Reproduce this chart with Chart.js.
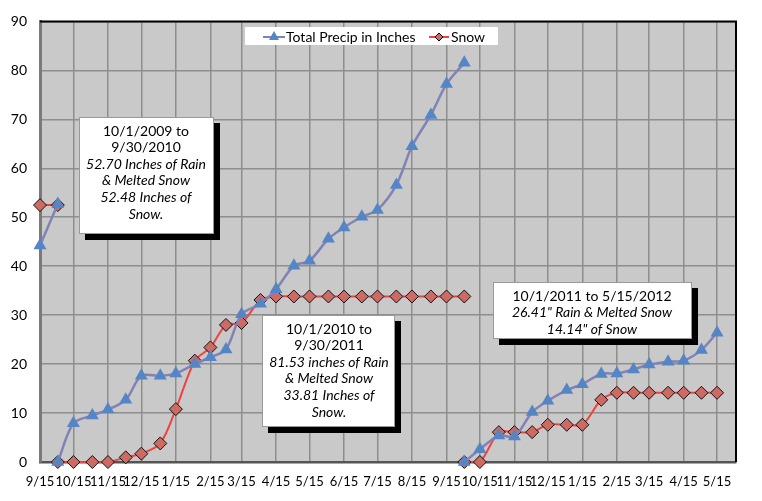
<!DOCTYPE html>
<html lang="en">
<head>
    <meta charset="UTF-8">
    <title>Precipitation and Snow</title>
    <script src="https://cdn.jsdelivr.net/npm/chart.js"></script>
    <style>
        html, body { margin: 0; padding: 0; background: #fff; }
        #chartContainer { width: 762px; height: 501px; }
    </style>
</head>
<body>
    <div id="chartContainer">
        <canvas id="precipChart" width="762" height="501"></canvas>
    </div>

    <script>
        // x axis tick labels (15th of each month)
        const tickDates = ['2010-09-15', '2010-10-15', '2010-11-15', '2010-12-15', '2011-01-15', '2011-02-15',
            '2011-03-15', '2011-04-15', '2011-05-15', '2011-06-15', '2011-07-15', '2011-08-15', '2011-09-15',
            '2011-10-15', '2011-11-15', '2011-12-15', '2012-01-15', '2012-02-15', '2012-03-15', '2012-04-15', '2012-05-15'];
        const tickLabels = ['9/15', '10/15', '11/15', '12/15', '1/15', '2/15', '3/15', '4/15', '5/15', '6/15', '7/15',
            '8/15', '9/15', '10/15', '11/15', '12/15', '1/15', '2/15', '3/15', '4/15', '5/15'];

        // end of the 2009-2010 season
        const season0Dates = ['2010-09-15', '2010-10-01'];
        const season0Precip = [44.2, 52.70];
        const season0Snow = [52.48, 52.48];

        // 2010-2011 season
        const season1Dates = ['2010-10-01', '2010-10-15', '2010-11-01', '2010-11-15', '2010-12-01', '2010-12-15',
            '2011-01-01', '2011-01-15', '2011-02-01', '2011-02-15', '2011-03-01', '2011-03-15', '2011-04-01',
            '2011-04-15', '2011-05-01', '2011-05-15', '2011-06-01', '2011-06-15', '2011-07-01', '2011-07-15',
            '2011-08-01', '2011-08-15', '2011-09-01', '2011-09-15', '2011-10-01'];
        const season1Precip = [0, 7.9, 9.5, 10.7, 12.7, 17.6, 17.6, 18.1, 20.0, 21.4, 23.0, 30.2, 32.3,
            35.3, 40.1, 41.1, 45.6, 47.9, 50.1, 51.5, 56.6, 64.5, 70.9, 77.2, 81.53];
        const season1Snow = [0, 0, 0, 0, 0.95, 1.7, 3.8, 10.8, 20.7, 23.4, 28.0, 28.4, 33.1,
            33.81, 33.81, 33.81, 33.81, 33.81, 33.81, 33.81, 33.81, 33.81, 33.81, 33.81, 33.81];

        // 2011-2012 season
        const season2Dates = ['2011-10-01', '2011-10-15', '2011-11-01', '2011-11-15', '2011-12-01', '2011-12-15',
            '2012-01-01', '2012-01-15', '2012-02-01', '2012-02-15', '2012-03-01', '2012-03-15', '2012-04-01',
            '2012-04-15', '2012-05-01', '2012-05-15'];
        const season2Precip = [0, 2.6, 5.4, 5.2, 10.2, 12.5, 14.7, 15.9, 18.0, 18.1, 18.9, 19.9, 20.5, 20.7, 22.9, 26.41];
        const season2Snow = [0, 0, 6.1, 6.1, 6.1, 7.6, 7.6, 7.6, 12.7, 14.14, 14.14, 14.14, 14.14, 14.14, 14.14, 14.14];

        const START = Date.UTC(2010, 8, 15);
        function dayOf(s) {
            const p = s.split('-').map(Number);
            return (Date.UTC(p[0], p[1] - 1, p[2]) - START) / 86400000;
        }

        // join seasons with a null point so the line breaks between them
        function buildSeries(parts) {
            const out = [];
            parts.forEach((part, i) => {
                if (i > 0) out.push({ x: dayOf(part[0][0]), y: null });
                part[0].forEach((d, j) => out.push({ x: dayOf(d), y: part[1][j] }));
            });
            return out;
        }

        const precipData = buildSeries([[season0Dates, season0Precip], [season1Dates, season1Precip], [season2Dates, season2Precip]]);
        const snowData = buildSeries([[season0Dates, season0Snow], [season1Dates, season1Snow], [season2Dates, season2Snow]]);
        const tickDays = tickDates.map(dayOf);

        const FONT = 'Lato, "Open Sans", sans-serif';

        const notes = [
            { box: [79, 117, 135, 117], cx: 146, lines: [['10/1/2009 to', ''], ['9/30/2010', ''], ['52.70 Inches of Rain', 'italic'],
                ['& Melted Snow', 'italic'], ['52.48 Inches of', 'italic'], ['Snow.', 'italic']], y0: 131 },
            { box: [262, 315, 133, 112], cx: 329, lines: [['10/1/2010 to', ''], ['9/30/2011', ''], ['81.53 inches of Rain', 'italic'],
                ['& Melted Snow', 'italic'], ['33.81 Inches of', 'italic'], ['Snow.', 'italic']], y0: 329 },
            { box: [493, 282, 199, 57], cx: 592, lines: [['10/1/2011 to 5/15/2012', ''], ['26.41" Rain & Melted Snow', 'italic'],
                ['14.14" of Snow', 'italic']], y0: 296 }
        ];

        const plotBackground = {
            id: 'plotBackground',
            beforeDraw(chart) {
                const { ctx, chartArea: a } = chart;
                ctx.save();
                ctx.fillStyle = '#c9c9c9';
                ctx.fillRect(a.left, a.top, a.right - a.left, a.bottom - a.top);
                ctx.restore();
            },
            afterDatasetsDraw(chart) {
                const { ctx, chartArea: a } = chart;
                ctx.save();
                // top and right frame
                ctx.strokeStyle = '#000';
                ctx.lineWidth = 2;
                ctx.beginPath();
                ctx.moveTo(a.left, a.top);
                ctx.lineTo(a.right, a.top);
                ctx.lineTo(a.right, a.bottom);
                ctx.stroke();

                // legend
                ctx.fillStyle = '#fff';
                ctx.fillRect(245, 27, 253, 18);
                ctx.font = '14px ' + FONT;
                ctx.textBaseline = 'middle';
                ctx.fillStyle = '#000';
                const ds = chart.data.datasets;
                // precip item
                ctx.strokeStyle = ds[0].borderColor;
                ctx.lineWidth = 2;
                ctx.beginPath(); ctx.moveTo(263, 37); ctx.lineTo(285, 37); ctx.stroke();
                ctx.fillStyle = ds[0].pointBackgroundColor;
                ctx.beginPath(); ctx.moveTo(274, 31); ctx.lineTo(279, 40); ctx.lineTo(269, 40); ctx.closePath(); ctx.fill();
                ctx.fillStyle = '#000';
                ctx.fillText(ds[0].label, 286, 37);
                // snow item
                ctx.strokeStyle = ds[1].borderColor;
                ctx.beginPath(); ctx.moveTo(429, 37); ctx.lineTo(449, 37); ctx.stroke();
                ctx.fillStyle = ds[1].pointBackgroundColor;
                ctx.strokeStyle = '#000';
                ctx.lineWidth = 1;
                ctx.beginPath(); ctx.moveTo(439, 33); ctx.lineTo(443, 37); ctx.lineTo(439, 41); ctx.lineTo(435, 37); ctx.closePath();
                ctx.fill(); ctx.stroke();
                ctx.fillStyle = '#000';
                ctx.fillText(ds[1].label, 451, 37);
                ctx.restore();
            },
            afterDraw(chart) {
                const { ctx } = chart;
                ctx.save();
                notes.forEach(n => {
                    const [x, y, w, h] = n.box;
                    ctx.fillStyle = '#000';
                    ctx.fillRect(x + 6, y + 6, w, h);
                    ctx.fillStyle = '#fff';
                    ctx.fillRect(x, y, w, h);
                    ctx.strokeStyle = '#999';
                    ctx.lineWidth = 1;
                    ctx.strokeRect(x + 0.5, y + 0.5, w - 1, h - 1);
                    ctx.fillStyle = '#000';
                    ctx.textAlign = 'center';
                    ctx.textBaseline = 'middle';
                    n.lines.forEach((l, i) => {
                        ctx.font = (l[1] ? 'italic ' : '') + '14px ' + FONT;
                        ctx.fillText(l[0], n.cx, n.y0 + i * 16.6);
                    });
                });
                ctx.restore();
            }
        };

        const ctx = document.getElementById('precipChart').getContext('2d');
        new Chart(ctx, {
            type: 'line',
            data: {
                datasets: [{
                    label: 'Total Precip in Inches',
                    data: precipData,
                    borderColor: '#8282b6',
                    borderWidth: 2.5,
                    pointStyle: 'triangle',
                    pointRadius: 7.5,
                    pointBackgroundColor: '#5585c4',
                    pointBorderColor: '#5585c4',
                    pointBorderWidth: 0,
                    tension: 0.3,
                    clip: false
                }, {
                    label: 'Snow',
                    data: snowData,
                    borderColor: '#f2413f',
                    borderWidth: 2,
                    pointStyle: 'rectRot',
                    pointRadius: 6.5,
                    pointBackgroundColor: '#cd6a64',
                    pointBorderColor: '#111',
                    pointBorderWidth: 1,
                    tension: 0.3,
                    clip: false
                }]
            },
            options: {
                responsive: false,
                animation: false,
                spanGaps: false,
                layout: { padding: { top: 16, right: 26, left: 0, bottom: 0 } },
                plugins: {
                    legend: { display: false },
                    tooltip: { enabled: false }
                },
                scales: {
                    x: {
                        type: 'linear',
                        min: 0,
                        max: 625,
                        afterBuildTicks: (scale) => { scale.ticks = tickDays.map(v => ({ value: v })); },
                        afterFit: (scale) => { scale.height = 39; },
                        ticks: {
                            autoSkip: false,
                            maxRotation: 0,
                            padding: 12,
                            color: '#000',
                            font: { family: FONT, size: 13 },
                            callback: (value, index) => tickLabels[index]
                        },
                        grid: { color: '#8e8e8e', lineWidth: 1.5, drawTicks: false },
                        border: { color: '#555', width: 2.5 }
                    },
                    y: {
                        min: 0,
                        max: 90,
                        afterFit: (scale) => { scale.width = 40; },
                        ticks: {
                            stepSize: 10,
                            padding: 13,
                            color: '#000',
                            font: { family: FONT, size: 14 }
                        },
                        grid: { color: '#8e8e8e', lineWidth: 1.5, drawTicks: false },
                        border: { color: '#7a7a7a', width: 3 }
                    }
                }
            },
            plugins: [plotBackground]
        });
    </script>
</body>
</html>
